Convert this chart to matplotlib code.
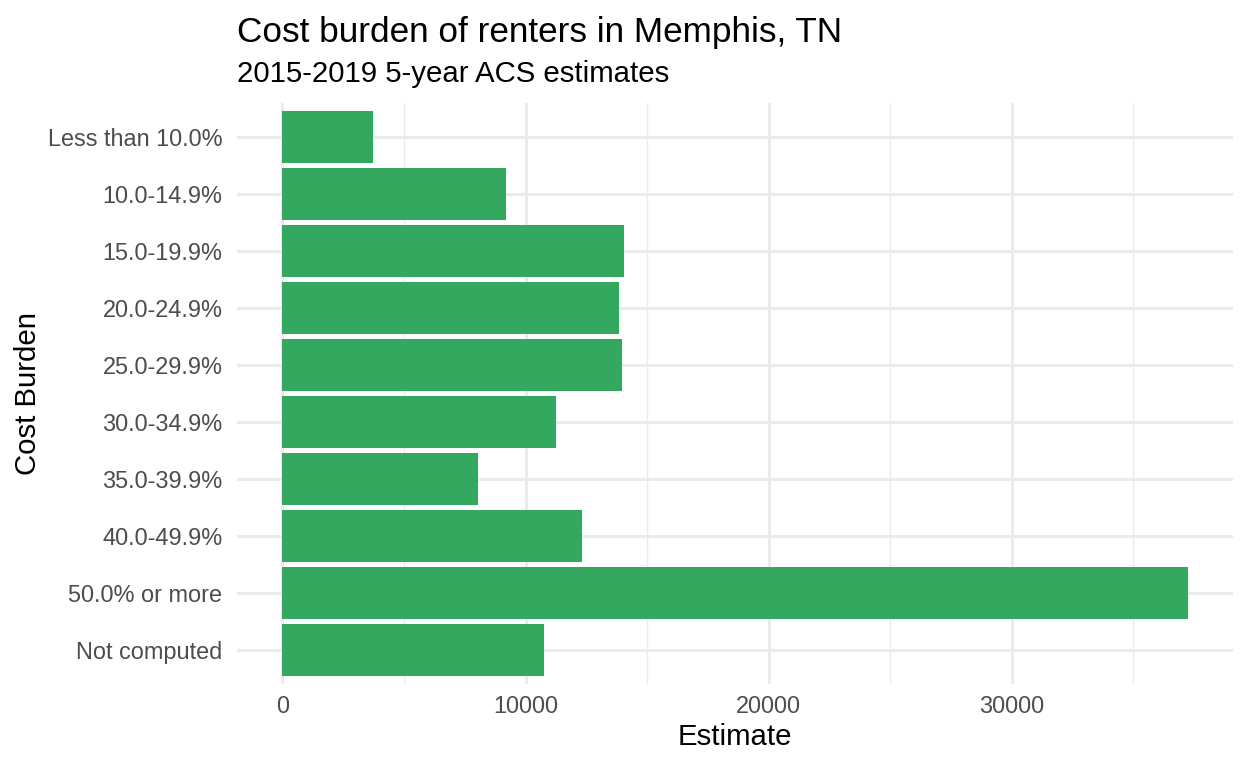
import matplotlib
matplotlib.use("Agg")
import matplotlib.pyplot as plt
from matplotlib.ticker import MultipleLocator

categories = ["Less than 10.0%", "10.0-14.9%", "15.0-19.9%", "20.0-24.9%", "25.0-29.9%",
              "30.0-34.9%", "35.0-39.9%", "40.0-49.9%", "50.0% or more", "Not computed"]
estimates = [3745, 9214, 14064, 13859, 13982, 11262, 8056, 12330, 37238, 10768]
x_ticks = [0, 10000, 20000, 30000]

plt.rcParams['font.family'] = ['Liberation Sans', 'DejaVu Sans']

fig = plt.figure(figsize=(6.5, 4), dpi=192)
ax = fig.add_axes([0.190, 0.109, 0.798, 0.757])

n = len(categories)
ypos = [n - 1 - i for i in range(n)]
ax.barh(ypos, estimates, height=0.9, color='#35A85F', zorder=2)

xmax = max(estimates)
ax.set_xlim(-0.05 * xmax, xmax * 1.05)
ax.set_ylim(-0.6, n - 1 + 0.6)
ax.set_yticks(ypos)
ax.set_yticklabels(categories)
ax.set_xticks(x_ticks)
ax.set_xticklabels([str(t) for t in x_ticks])
ax.xaxis.set_minor_locator(MultipleLocator(5000))

ax.grid(True, which='major', color='#EBEBEB', linewidth=1.1, zorder=0)
ax.grid(True, which='minor', axis='x', color='#EBEBEB', linewidth=0.55, zorder=0)
ax.set_axisbelow(True)
for s in ax.spines.values():
    s.set_visible(False)
ax.tick_params(which='both', length=0, labelsize=8.8, labelcolor='#4D4D4D')
ax.tick_params(axis='x', pad=4)
ax.tick_params(axis='y', pad=5.5)

ax.set_xlabel("Estimate", fontsize=11, labelpad=2)
ax.set_ylabel("Cost Burden", fontsize=11, labelpad=2)

fig.text(0.190, 0.945, "Cost burden of renters in Memphis, TN", fontsize=13.2, va='baseline', ha='left')
fig.text(0.190, 0.893, "2015-2019 5-year ACS estimates", fontsize=11, va='baseline', ha='left')

fig.savefig("out.png", dpi=192, facecolor='white')
